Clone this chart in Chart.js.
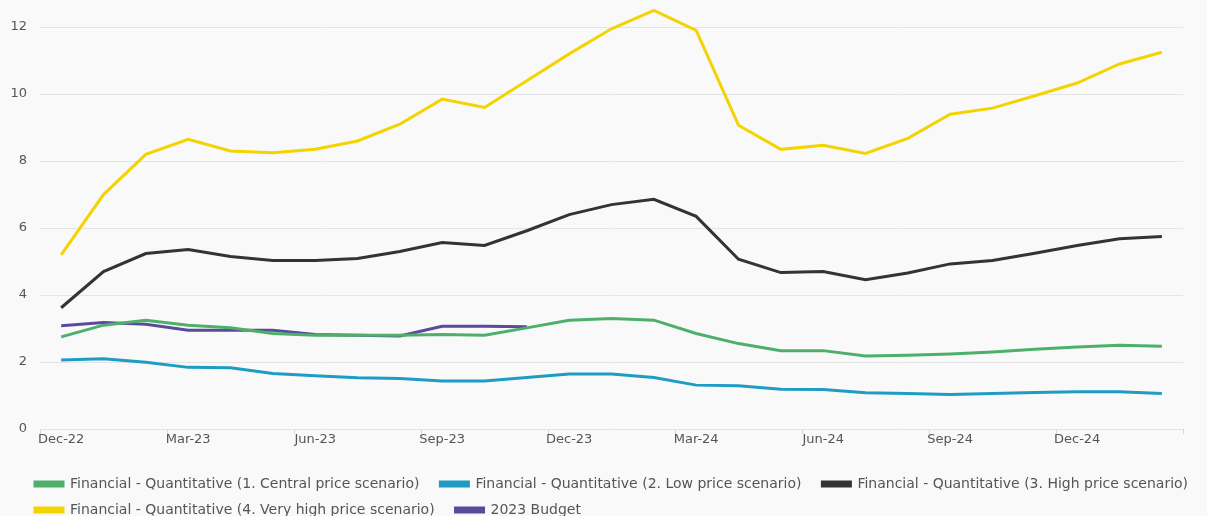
<!DOCTYPE html>
<html>
<head>
<meta charset="utf-8">
<script src="https://cdn.jsdelivr.net/npm/chart.js@4"></script>
<style>
  html, body { margin: 0; padding: 0; background: #f9f9f9; }
  #wrap { width: 1207px; height: 516px; }
</style>
</head>
<body>
<div id="wrap"><canvas id="c" width="1207" height="516"></canvas></div>
<script>
const categories = ["Dec-22","Jan-23","Feb-23","Mar-23","Apr-23","May-23","Jun-23","Jul-23","Aug-23","Sep-23","Oct-23","Nov-23","Dec-23","Jan-24","Feb-24","Mar-24","Apr-24","May-24","Jun-24","Jul-24","Aug-24","Sep-24","Oct-24","Nov-24","Dec-24","Jan-25","Feb-25"];
const centralPrice = [2.75,3.1,3.25,3.1,3.02,2.85,2.8,2.8,2.8,2.82,2.8,3.02,3.25,3.3,3.25,2.85,2.55,2.34,2.34,2.18,2.2,2.24,2.3,2.38,2.45,2.5,2.47];
const lowPrice = [2.06,2.1,1.99,1.84,1.83,1.66,1.59,1.53,1.51,1.43,1.43,1.54,1.64,1.64,1.54,1.31,1.29,1.19,1.18,1.08,1.06,1.03,1.06,1.09,1.11,1.11,1.06];
const highPrice = [3.62,4.7,5.24,5.36,5.15,5.03,5.03,5.09,5.3,5.57,5.48,5.92,6.4,6.7,6.86,6.35,5.07,4.67,4.7,4.46,4.66,4.93,5.03,5.25,5.48,5.68,5.75];
const veryHighPrice = [5.2,7.0,8.2,8.65,8.3,8.25,8.35,8.6,9.1,9.85,9.6,10.4,11.2,11.95,12.5,11.9,9.07,8.35,8.47,8.23,8.68,9.4,9.58,9.95,10.33,10.9,11.25];
const budget2023 = [3.08,3.18,3.13,2.95,2.95,2.95,2.82,2.8,2.78,3.07,3.07,3.05,null,null,null,null,null,null,null,null,null,null,null,null,null,null,null];
const seriesNames = [
  "Financial - Quantitative (1. Central price scenario)",
  "Financial - Quantitative (2. Low price scenario)",
  "Financial - Quantitative (3. High price scenario)",
  "Financial - Quantitative (4. Very high price scenario)",
  "2023 Budget"
];
const yTicks = [0,2,4,6,8,10,12];

const colors = ["#4cb06a","#1f9cc4","#333333","#f3d400","#5b4a9c"];
const seriesData = [centralPrice, lowPrice, highPrice, veryHighPrice, budget2023];

const FONT = "'DejaVu Sans', 'Noto Sans', sans-serif";

const shiftLegend = {
  id: 'shiftLegend',
  afterLayout(chart) {
    if (chart.legend) { chart.legend.left += 19; chart.legend.right += 19; }
  }
};

new Chart(document.getElementById('c'), {
  type: 'line',
  plugins: [shiftLegend],
  data: {
    labels: categories,
    datasets: seriesData.map((d, i) => ({
      label: seriesNames[i],
      data: d,
      borderColor: colors[i],
      backgroundColor: colors[i],
      borderWidth: 3,
      pointRadius: 0,
      tension: 0,
      fill: false,
      clip: false,
      spanGaps: false
    }))
  },
  options: {
    responsive: false,
    animation: false,
    layout: { padding: { left: 4, right: 0, top: 7, bottom: -11 } },
    plugins: {
      tooltip: { enabled: false },
      legend: {
        position: 'bottom',
        align: 'start',
        labels: {
          boxWidth: 28,
          boxHeight: 4,
          padding: 12,
          color: '#555',
          font: { family: FONT, size: 14 },
          generateLabels: (chart) => {
            const items = Chart.defaults.plugins.legend.labels.generateLabels(chart);
            items.forEach(it => { it.text = it.text + '\u00a0\u00a0'; });
            return items;
          }
        }
      }
    },
    scales: {
      x: {
        type: 'category',
        offset: true,
        border: { display: false },
        afterFit: (s) => { s.height = 36; s.paddingRight = 24; },
        grid: {
          offset: true,
          drawOnChartArea: false,
          drawTicks: true,
          tickLength: 5,
          color: (ctx) => (ctx.index === undefined || ctx.index % 3 === 0) ? '#d8d8d8' : 'rgba(0,0,0,0)'
        },
        ticks: {
          autoSkip: false,
          maxRotation: 0,
          padding: -2,
          color: '#555',
          font: { family: FONT, size: 13 },
          callback: function(v, i) { return i % 3 === 0 ? categories[i] : ''; }
        }
      },
      y: {
        min: 0,
        max: 12.6,
        border: { display: false },
        afterBuildTicks: (scale) => { scale.ticks = yTicks.map(v => ({ value: v })); },
        afterFit: (s) => { s.width = 36; s.paddingTop = 0; s.paddingBottom = 0; },
        grid: { color: '#e4e4e4', drawTicks: false, lineWidth: 1 },
        ticks: {
          padding: 13,
          color: '#555',
          font: { family: FONT, size: 13 }
        }
      }
    }
  }
});
</script>
</body>
</html>
